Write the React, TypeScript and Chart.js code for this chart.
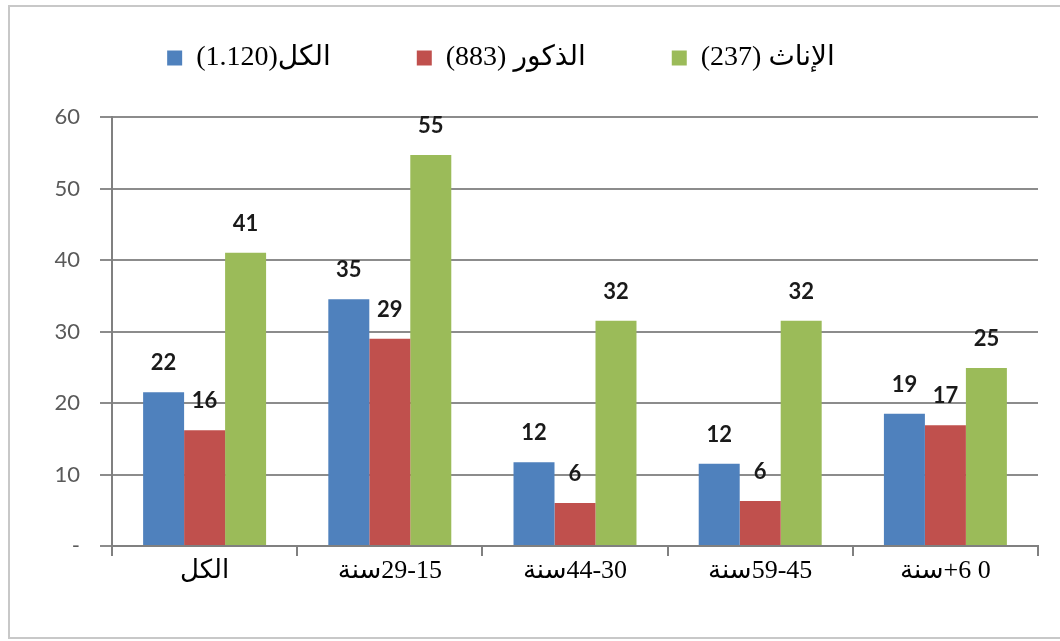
import { useEffect, useRef } from 'react';
import { Chart, registerables } from 'chart.js';

Chart.register(...registerables);

// Category labels (visual order as in the reference)
const categories = ['الكل', 'سنة\u200E29-15', 'سنة\u200E44-30', 'سنة\u200E59-45', 'سنة\u200E+6 0'];
// Series names (legend)
const seriesNames = ['\u200E(1.120)الكل', '\u200E(883) الذكور', '\u200E(237) الإناث'];
const seriesColors = ['#4F81BD', '#C0504D', '#9BBB59'];
// Values
const totalValues = [21.5, 34.5, 11.7, 11.5, 18.5];
const maleValues = [16.2, 29.0, 6.0, 6.3, 16.9];
const femaleValues = [41.0, 54.7, 31.5, 31.5, 24.9];
// Y axis
const yMin = 0;
const yMax = 60;
const yStep = 10;

const LABEL_FONT = "'Liberation Serif', 'DejaVu Sans', serif";
const NUM_FONT = "Lato, 'Open Sans', sans-serif";
const LEGEND_SIZE = 28;
const LEGEND_PAD = 86;

const framePlugin = {
  id: 'frame',
  beforeDraw(chart: any) {
    const { ctx, width, height } = chart;
    ctx.save();
    ctx.fillStyle = '#ffffff';
    ctx.fillRect(0, 0, width, height);
    ctx.strokeStyle = '#c8c8c8';
    ctx.lineWidth = 2;
    ctx.strokeRect(9, 6, width + 20, 632);
    ctx.restore();
  },
};

const legendPlacePlugin = {
  id: 'legendPlace',
  afterInit(chart: any) {
    const legend = chart.legend;
    if (!legend) return;
    const origFit = legend.fit.bind(legend);
    legend.fit = function () {
      origFit();
      this.height = 117;
    };
  },
  afterLayout(chart: any) {
    const legend = chart.legend;
    if (!legend) return;
    legend.top = 58 - LEGEND_PAD - LEGEND_SIZE / 2;
    legend.left -= 18;
    legend.right -= 18;
  },
};

const dataLabelPlugin = {
  id: 'dataLabels',
  afterDatasetsDraw(chart: any) {
    const { ctx } = chart;
    ctx.save();
    ctx.font = `bold 22px ${NUM_FONT}`;
    ctx.fillStyle = '#1a1a1a';
    ctx.textAlign = 'center';
    ctx.textBaseline = 'middle';
    chart.data.datasets.forEach((ds: any, i: number) => {
      const meta = chart.getDatasetMeta(i);
      meta.data.forEach((bar: any, j: number) => {
        ctx.fillText(String(Math.round(ds.data[j])), bar.x, bar.y - 29);
      });
    });
    ctx.restore();
  },
};

export default function App() {
  const canvasRef = useRef<HTMLCanvasElement | null>(null);

  useEffect(() => {
    const canvas = canvasRef.current;
    if (!canvas) return;
    const values = [totalValues, maleValues, femaleValues];
    const chart = new Chart(canvas, {
      type: 'bar',
      data: {
        labels: categories,
        datasets: values.map((v, i) => ({
          label: seriesNames[i],
          data: v,
          backgroundColor: seriesColors[i],
          borderWidth: 0,
          categoryPercentage: 0.664,
          barPercentage: 1,
        })),
      },
      options: {
        animation: false,
        responsive: false,
        devicePixelRatio: 1,
        layout: { padding: { left: 0, right: 22, top: 0, bottom: 0 } },
        plugins: {
          tooltip: { enabled: false },
          legend: {
            display: true,
            position: 'top',
            align: 'center',
            labels: {
              boxWidth: 15,
              boxHeight: 15,
              padding: LEGEND_PAD,
              color: '#000000',
              font: { family: LABEL_FONT, size: LEGEND_SIZE },
            },
          },
        },
        scales: {
          x: {
            grid: {
              display: true,
              drawOnChartArea: false,
              drawTicks: true,
              tickLength: 10,
              color: '#808080',
              lineWidth: 2,
              offset: true,
            },
            border: { display: true, color: '#808080', width: 2 },
            ticks: {
              color: '#000000',
              font: { family: LABEL_FONT, size: 26 },
              padding: 0,
              maxRotation: 0,
              autoSkip: false,
            },
            afterFit: (s: any) => {
              s.height = 95;
            },
          },
          y: {
            min: yMin,
            max: yMax,
            ticks: {
              stepSize: yStep,
              callback: (v: any) => (Number(v) === 0 ? '-' : String(v)),
              color: '#5a5a5a',
              font: { family: NUM_FONT, size: 22 },
              padding: 20,
            },
            grid: {
              color: '#8c8c8c',
              lineWidth: 2,
              tickLength: 12,
              drawTicks: true,
            },
            border: { display: true, color: '#808080', width: 2 },
            afterFit: (s: any) => {
              s.width = 112;
            },
          },
        },
      },
      plugins: [framePlugin, legendPlacePlugin, dataLabelPlugin],
    } as any);
    return () => chart.destroy();
  }, []);

  return (
    <div style={{ position: 'absolute', left: 0, top: 0, width: 1060, height: 641, background: '#fff' }}>
      <canvas ref={canvasRef} width={1060} height={641} style={{ display: 'block' }} />
    </div>
  );
}
